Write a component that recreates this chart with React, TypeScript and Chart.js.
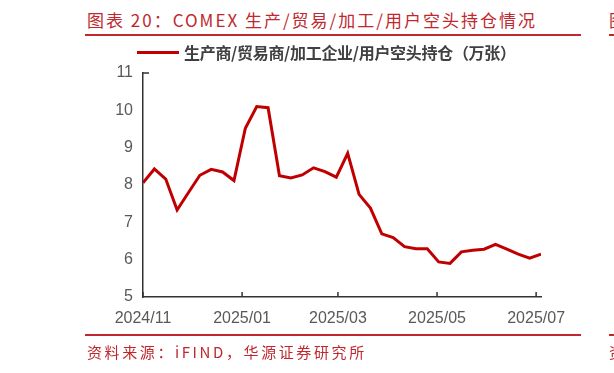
import React, { useEffect, useRef } from "react";
import { Chart, registerables } from "chart.js";

Chart.register(...registerables);

// ---- data ----
const dates = [
  "2024-11-01", "2024-11-08", "2024-11-15", "2024-11-22", "2024-11-29",
  "2024-12-06", "2024-12-13", "2024-12-20", "2024-12-27",
  "2025-01-03", "2025-01-10", "2025-01-17", "2025-01-24", "2025-01-31",
  "2025-02-07", "2025-02-14", "2025-02-21", "2025-02-28",
  "2025-03-07", "2025-03-14", "2025-03-21", "2025-03-28",
  "2025-04-04", "2025-04-11", "2025-04-18", "2025-04-25",
  "2025-05-02", "2025-05-09", "2025-05-16", "2025-05-23", "2025-05-30",
  "2025-06-06", "2025-06-13", "2025-06-20", "2025-06-27",
  "2025-07-04",
];
const shortPositions = [
  8.06, 8.43, 8.16, 7.33, 7.8,
  8.26, 8.42, 8.35, 8.12,
  9.52, 10.1, 10.07, 8.25, 8.19,
  8.27, 8.46, 8.36, 8.21,
  8.85, 7.75, 7.38, 6.69,
  6.59, 6.35, 6.29, 6.29,
  5.94, 5.9, 6.21, 6.25, 6.28,
  6.41, 6.28, 6.15, 6.04,
  6.15,
];
const xTickLabels = ["2024/11", "2025/01", "2025/03", "2025/05", "2025/07"];
const yTicks = [5, 6, 7, 8, 9, 10, 11];
const seriesName = "生产商/贸易商/加工企业/用户空头持仓（万张）";
const titleText = "图表 20：COMEX 生产/贸易/加工/用户空头持仓情况";
const sourceText = "资料来源：iFIND，华源证券研究所";

const RED = "#C00000";
const FRAME_RED = "#C0282E";

const dayOf = (iso: string) => {
  const [y, m, d] = iso.split("-").map(Number);
  return Date.UTC(y, m - 1, d) / 86400000;
};
const dayOfLabel = (lbl: string) => {
  const [y, m] = lbl.split("/").map(Number);
  return Date.UTC(y, m - 1, 1) / 86400000;
};

const innerTicks = {
  id: "innerTicks",
  afterDraw(chart: any) {
    const { ctx, chartArea, scales } = chart;
    const x = scales.x;
    ctx.save();
    ctx.strokeStyle = "#333333";
    ctx.lineWidth = 1.5;
    ctx.beginPath();
    x.ticks.forEach((t: any) => {
      const px = x.getPixelForValue(t.value);
      ctx.moveTo(px, chartArea.bottom);
      ctx.lineTo(px, chartArea.bottom - 5);
    });
    const py = scales.y.getPixelForValue(yTicks[yTicks.length - 1]);
    ctx.moveTo(chartArea.left, py);
    ctx.lineTo(chartArea.left + 6, py);
    ctx.stroke();
    ctx.restore();
  },
};

export default function App() {
  const ref = useRef<HTMLCanvasElement | null>(null);

  useEffect(() => {
    if (!ref.current) return;
    const points = dates.map((d, i) => ({ x: dayOf(d), y: shortPositions[i] }));
    const chart = new Chart(ref.current, {
      type: "line",
      data: {
        datasets: [
          {
            label: seriesName,
            data: points,
            borderColor: RED,
            backgroundColor: RED,
            borderWidth: 3,
            pointRadius: 0,
            tension: 0,
          },
        ],
      },
      options: {
        animation: false,
        responsive: false,
        devicePixelRatio: 1,
        layout: { padding: { left: 99, right: 73, top: 73, bottom: 36 } },
        plugins: { legend: { display: false }, tooltip: { enabled: false } },
        scales: {
          x: {
            type: "linear",
            min: dayOf(dates[0]),
            max: dayOf(dates[dates.length - 1]),
            afterBuildTicks: (scale: any) => {
              scale.ticks = xTickLabels.map((l) => ({ value: dayOfLabel(l) }));
            },
            afterFit: (scale: any) => {
              scale.height = 40;
            },
            ticks: {
              autoSkip: false,
              maxRotation: 0,
              padding: 12,
              color: "#595959",
              font: { family: "'Liberation Sans', Arial, sans-serif", size: 16 },
              callback: (v: any) => {
                const i = xTickLabels.findIndex((l) => dayOfLabel(l) === v);
                return i >= 0 ? xTickLabels[i] : "";
              },
            },
            grid: { display: false, drawTicks: false },
            border: { display: true, color: "#333333", width: 1.5 },
          },
          y: {
            min: yTicks[0],
            max: yTicks[yTicks.length - 1],
            afterFit: (scale: any) => {
              scale.width = 44;
            },
            ticks: {
              stepSize: 1,
              padding: 10,
              color: "#595959",
              font: { family: "'Liberation Sans', Arial, sans-serif", size: 16 },
            },
            grid: { display: false, drawTicks: false },
            border: { display: true, color: "#333333", width: 1.5 },
          },
        },
      },
      plugins: [innerTicks],
    });
    return () => chart.destroy();
  }, []);

  const cjk = "'Noto Sans CJK SC', 'Noto Sans', sans-serif";

  return (
    <div
      style={{
        position: "absolute",
        left: 0,
        top: 0,
        width: 614,
        height: 373,
        overflow: "hidden",
        background: "#ffffff",
      }}
    >
      <div
        style={{
          position: "absolute",
          left: 87,
          top: 10,
          lineHeight: "20px",
          fontSize: 17,
          letterSpacing: "2px",
          whiteSpace: "nowrap",
          fontFamily: cjk,
          color: FRAME_RED,
        }}
      >
        {titleText}
      </div>
      <div style={{ position: "absolute", left: 85, top: 34, width: 496, height: 2, background: FRAME_RED }} />
      <div style={{ position: "absolute", left: 609, top: 34, width: 10, height: 2, background: FRAME_RED }} />
      <div
        style={{
          position: "absolute",
          left: 609,
          top: 10,
          lineHeight: "20px",
          fontSize: 17,
          fontFamily: cjk,
          color: FRAME_RED,
          whiteSpace: "nowrap",
        }}
      >
        图
      </div>

      <canvas ref={ref} width={614} height={373} style={{ position: "absolute", left: 0, top: 0, width: 614, height: 373 }} />

      <div style={{ position: "absolute", left: 137, top: 51, width: 42, height: 3, background: RED }} />
      <div
        style={{
          position: "absolute",
          left: 184,
          top: 42,
          lineHeight: "20px",
          fontSize: 16,
          fontWeight: 700,
          letterSpacing: "-0.3px",
          fontFamily: cjk,
          color: "#404040",
          whiteSpace: "nowrap",
        }}
      >
        {seriesName}
      </div>

      <div style={{ position: "absolute", left: 85, top: 334, width: 496, height: 2, background: FRAME_RED }} />
      <div style={{ position: "absolute", left: 609, top: 334, width: 10, height: 2, background: FRAME_RED }} />
      <div
        style={{
          position: "absolute",
          left: 87,
          top: 342,
          lineHeight: "20px",
          fontSize: 15,
          letterSpacing: "2.6px",
          whiteSpace: "nowrap",
          fontFamily: cjk,
          color: FRAME_RED,
        }}
      >
        {sourceText}
      </div>
      <div
        style={{
          position: "absolute",
          left: 609,
          top: 342,
          lineHeight: "20px",
          fontSize: 15,
          fontFamily: cjk,
          color: FRAME_RED,
          whiteSpace: "nowrap",
        }}
      >
        资
      </div>
    </div>
  );
}
